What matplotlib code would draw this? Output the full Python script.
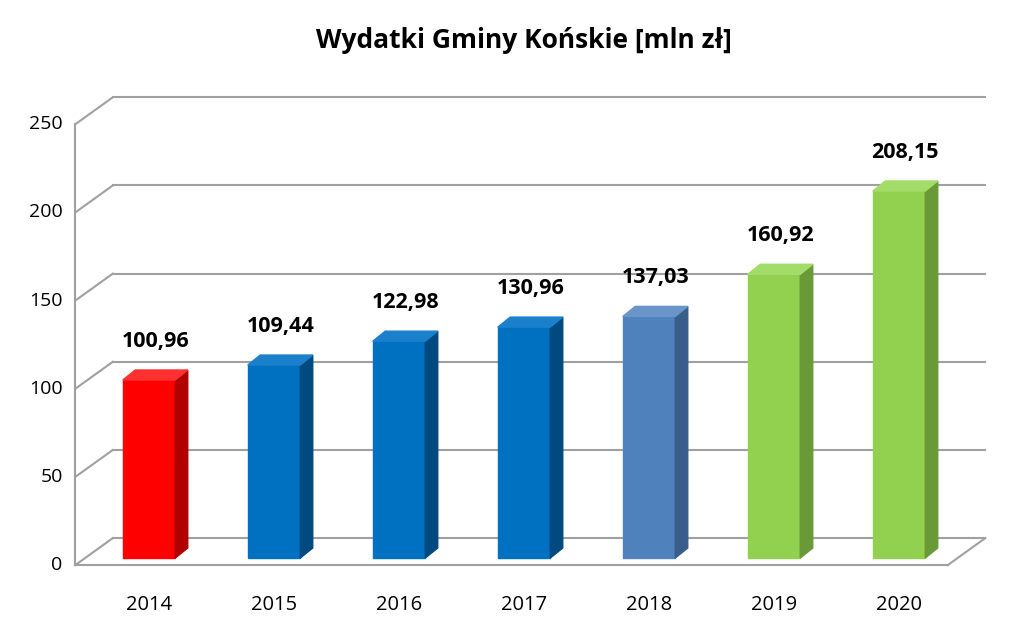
import matplotlib
matplotlib.use("Agg")
import matplotlib.pyplot as plt
from matplotlib.patches import Polygon

years = ["2014", "2015", "2016", "2017", "2018", "2019", "2020"]
values = [100.96, 109.44, 122.98, 130.96, 137.03, 160.92, 208.15]
labels = ["100,96", "109,44", "122,98", "130,96", "137,03", "160,92", "208,15"]
yticks = [0, 50, 100, 150, 200, 250]
front = ["#ff0000", "#0070c0", "#0070c0", "#0070c0", "#4f81bd", "#92d050", "#92d050"]
side = ["#b00000", "#004a80", "#004a80", "#004a80", "#385d8a", "#6a9a38", "#6a9a38"]
top = ["#ff3030", "#1a80cc", "#1a80cc", "#1a80cc", "#6a95c8", "#a4dc6a", "#a4dc6a"]

plt.rcParams['font.family'] = ['Open Sans', 'DejaVu Sans']
fig = plt.figure(figsize=(10.24, 6.39), dpi=100)
ax = fig.add_axes([0, 0, 1, 1])
ax.set_xlim(-1.192, 7.0)
ax.set_ylim(-45.9, 316.5)
ax.axis("off")

cL, cR = -0.59, 6.39
dxw, dyw = 0.30, 15.3
off = -4.0  # wall floor sits slightly below bar bases
g = "#a0a0a0"
for v in yticks:
    ax.plot([cL + dxw, cR + dxw], [v + dyw + off, v + dyw + off], color=g, lw=1.5)
    ax.plot([cL, cL + dxw], [v + off, v + dyw + off], color=g, lw=1.5)
    ax.text(cL - 0.1, v + off, str(v), ha="right", va="center", fontsize=14)
ax.plot([cL, cL], [off, 250 + off], color=g, lw=1.5)
ax.plot([cL, cR], [off, off], color=g, lw=1.5)
ax.plot([cR, cR + dxw], [off, dyw + off], color=g, lw=1.5)

w, bdx, bdy = 0.42, 0.1, 5.7
for i, (v, lab) in enumerate(zip(values, labels)):
    x0, x1 = i - w / 2, i + w / 2
    ax.add_patch(Polygon([(x0, 0), (x1, 0), (x1, v), (x0, v)], color=front[i], zorder=3))
    ax.add_patch(Polygon([(x1, 0), (x1 + bdx, bdy), (x1 + bdx, v + bdy), (x1, v)], color=side[i], zorder=3))
    ax.add_patch(Polygon([(x0, v), (x1, v), (x1 + bdx, v + bdy), (x0 + bdx, v + bdy)], color=top[i], zorder=3))
    ax.text(i + 0.05, v + 22, lab, ha="center", va="center", fontsize=15.5, fontweight="bold")
    ax.text(i, -26.7, years[i], ha="center", va="center", fontsize=14.5)

ax.text(3.0, 293.5, "Wydatki Gminy Końskie [mln zł]", ha="center", va="center", fontsize=19, fontweight="bold")
fig.savefig("out.png", dpi=100)
